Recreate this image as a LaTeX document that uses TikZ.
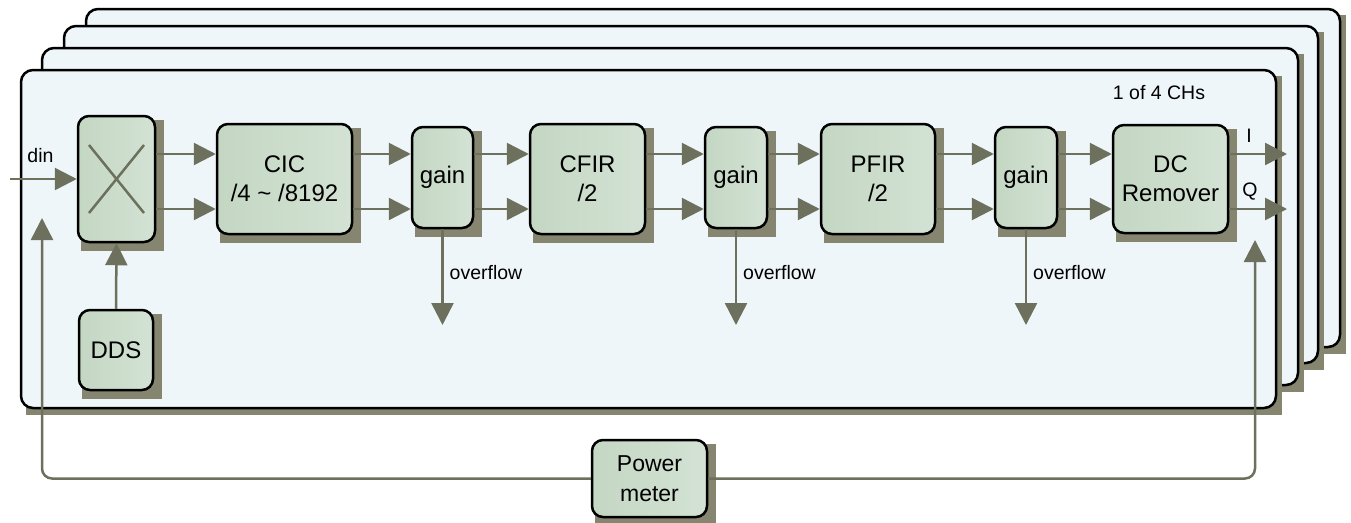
\documentclass[tikz,border=0pt]{standalone}
\usepackage{fontspec}
\setmainfont{Liberation Sans}
\usetikzlibrary{arrows.meta,calc}
\pgfdeclarelayer{bg}
\pgfdeclarelayer{shd}
\pgfsetlayers{bg,shd,main}
\definecolor{panelc}{HTML}{EFF6F9}
\definecolor{blkA}{HTML}{C4D7C3}
\definecolor{blkB}{HTML}{D3E2D4}
\definecolor{shc}{HTML}{868670}
\definecolor{arrc}{HTML}{6C705C}
\tikzset{
  blk/.style={draw=black, line width=2.5pt, rounded corners=11pt, left color=blkA, right color=blkB,
    inner sep=0pt, align=center, font=\fontsize{24}{29}\selectfont},
  arr/.style={draw=arrc, line width=2.5pt, -{Triangle[length=22pt,width=22pt]}},
  lbl/.style={font=\fontsize{19.5}{23}\selectfont, inner sep=0pt},
  panel/.style={draw=black, line width=2.5pt, fill=panelc, rounded corners=12pt},
}
\begin{document}
\begin{tikzpicture}[x=1pt,y=-1pt]
\useasboundingbox (0,0) rectangle (1351,522);
% stacked panels
\begin{pgfonlayer}{bg}
\foreach \xa/\ya/\xb/\yb in {86/9/1340/347, 64/26/1318/363, 42/48/1298/385, 21/70/1276/408}{
  \fill[shc] (\xa+5,\ya+6) rectangle (\xb+6,\yb+7);
  \path[panel] (\xa,\ya) rectangle (\xb,\yb);
}
\end{pgfonlayer}
\node[lbl] (chs) at (1159,93) {1 of 4 CHs};
% blocks
\node[blk, minimum width=77, minimum height=126] (mix) at (116.5,179) {};
\node[blk, minimum width=74, minimum height=80] (dds) at (116,350) {DDS};
\node[blk, minimum width=135, minimum height=110] (cic) at (284.5,179) {CIC\\/4 \textasciitilde{} /8192};
\node[blk, minimum width=61, minimum height=101] (g1) at (442.5,177.5) {gain};
\node[blk, minimum width=115, minimum height=110] (cfir) at (587.5,179) {CFIR\\/2};
\node[blk, minimum width=62, minimum height=101] (g2) at (736,177.5) {gain};
\node[blk, minimum width=114, minimum height=110] (pfir) at (878,179) {PFIR\\/2};
\node[blk, minimum width=62, minimum height=101] (g3) at (1026,177.5) {gain};
\node[blk, minimum width=115, minimum height=108] (dc) at (1170.5,179) {DC\\Remover};
\node[blk, minimum width=115, minimum height=77, font=\fontsize{23}{30}\selectfont] (pm) at (649.5,478.5) {Power\\meter};
\begin{pgfonlayer}{shd}
\foreach \n in {mix,dds,cic,g1,cfir,g2,pfir,g3,dc,pm}{
  \fill[shc] ($(\n.north west)+(4,5)$) rectangle ($(\n.south east)+(8,8)$);
}
\end{pgfonlayer}
% mixer cross
\draw[arrc, line width=2.5pt] ($(mix.center)+(-27.5,-34)$) -- ($(mix.center)+(27.5,34)$);
\draw[arrc, line width=2.5pt] ($(mix.center)+(27.5,-34)$) -- ($(mix.center)+(-27.5,34)$);
% coordinates
\coordinate (rowI) at (0,154);
\coordinate (rowQ) at (0,209);
\coordinate (dinS) at (10,179);
\coordinate (outI) at (1287,154);
\coordinate (outQ) at (1287,209);
\coordinate (fbL) at (42,218);
\coordinate (fbR) at (1255,240);
\coordinate (ov1) at (442.5,325);
\coordinate (ov2) at (736,325);
\coordinate (ov3) at (1026,325);
% connectors
\draw[arr] (dinS) -- (mix.west |- dinS);
\node[lbl] (din) at (40.5,156) {din};
\draw[arr] (dds.north) -- (mix.south);
\foreach \a/\b in {mix/cic, cic/g1, g1/cfir, cfir/g2, g2/pfir, pfir/g3, g3/dc}{
  \draw[arr] (\a.east |- rowI) -- (\b.west |- rowI);
  \draw[arr] (\a.east |- rowQ) -- (\b.west |- rowQ);
}
\draw[arr] (dc.east |- rowI) -- (outI);
\draw[arr] (dc.east |- rowQ) -- (outQ);
\node[lbl] (lI) at (1249,136) {I};
\node[lbl] (lQ) at (1250,192) {Q};
% overflow
\draw[arr] (g1.south) -- (ov1);
\draw[arr] (g2.south) -- (ov2);
\draw[arr] (g3.south) -- (ov3);
\node[lbl, anchor=west] (o1) at (449.5,273) {overflow};
\node[lbl, anchor=west] (o2) at (743,273) {overflow};
\node[lbl, anchor=west] (o3) at (1033,273) {overflow};
% feedback
\draw[arr, rounded corners=10pt] (pm.west) -| (fbL);
\draw[arr, rounded corners=10pt] (pm.east) -| (fbR);
\end{tikzpicture}
\end{document}
